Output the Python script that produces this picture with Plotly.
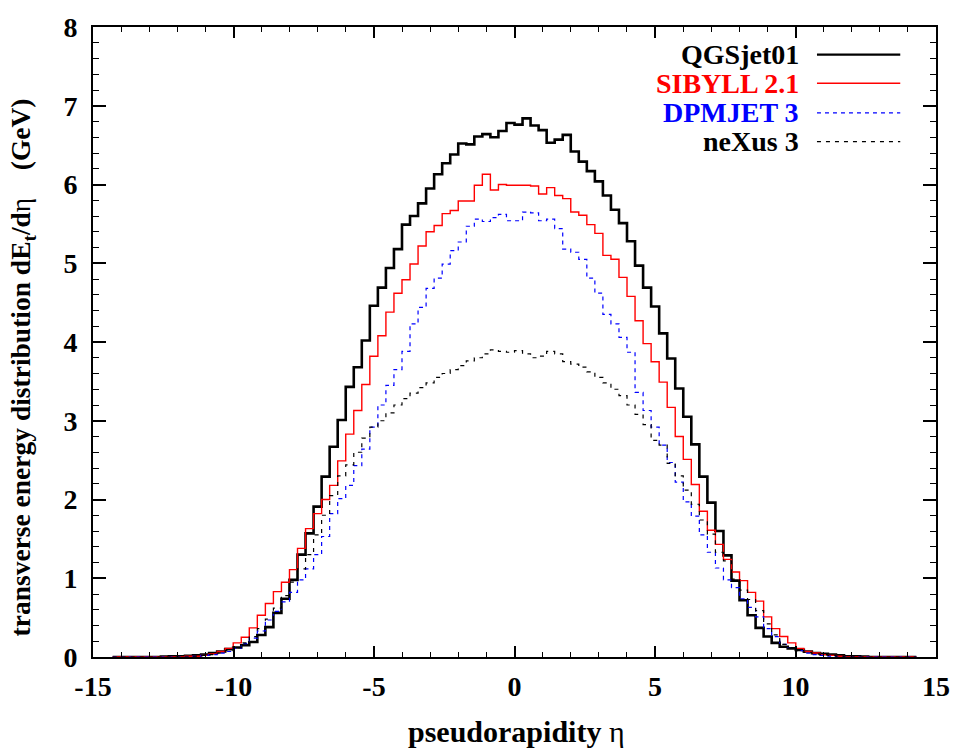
import numpy as np
import plotly.graph_objects as go

# ---- data: transverse energy per pseudorapidity bin (100 bins) ----
ETA_MIN, ETA_MAX, NBINS = -14.3, 14.3, 100

qgsjet = [0, 0, 0, 0, 0, 0, 0.005, 0.01, 0.01, 0.015,
          0.02, 0.03, 0.05, 0.07, 0.10, 0.12, 0.15, 0.19, 0.28, 0.38,
          0.56, 0.74, 0.98, 1.30, 1.57, 1.91, 2.29, 2.67, 3.01, 3.43,
          3.68, 4.02, 4.46, 4.69, 4.94, 5.18, 5.49, 5.60, 5.76, 5.95,
          6.13, 6.27, 6.38, 6.52, 6.51, 6.61, 6.64, 6.60, 6.68, 6.78,
          6.76, 6.84, 6.75, 6.69, 6.53, 6.57, 6.63, 6.42, 6.29, 6.17,
          6.04, 5.86, 5.68, 5.51, 5.28, 4.97, 4.69, 4.45, 4.11, 3.79,
          3.41, 3.05, 2.70, 2.29, 1.96, 1.60, 1.29, 0.97, 0.72, 0.53,
          0.37, 0.26, 0.18, 0.13, 0.11, 0.09, 0.07, 0.05, 0.04, 0.03,
          0.02, 0.01, 0.01, 0.005, 0, 0, 0, 0, 0, 0]

sibyll = [0, 0, 0, 0, 0, 0, 0, 0, 0, 0.01,
          0.01, 0.02, 0.04, 0.07, 0.11, 0.18, 0.25, 0.37, 0.53, 0.68,
          0.83, 0.95, 1.11, 1.38, 1.63, 1.82, 2.00, 2.18, 2.49, 2.83,
          3.13, 3.46, 3.82, 4.08, 4.38, 4.62, 4.79, 4.99, 5.22, 5.40,
          5.48, 5.63, 5.67, 5.79, 5.79, 5.99, 6.13, 5.93, 6.00, 5.99,
          5.99, 5.99, 5.98, 5.88, 5.96, 5.86, 5.82, 5.65, 5.61, 5.49,
          5.38, 5.10, 5.05, 4.82, 4.58, 4.27, 3.98, 3.75, 3.49, 3.17,
          2.80, 2.51, 2.19, 1.85, 1.61, 1.43, 1.24, 1.08, 0.97, 0.82,
          0.71, 0.51, 0.36, 0.26, 0.18, 0.11, 0.07, 0.05, 0.03, 0.02,
          0.01, 0, 0, 0, 0, 0, 0, 0, 0, 0]

dpmjet = [0, 0, 0, 0, 0, 0, 0, 0, 0, 0,
          0.01, 0.02, 0.03, 0.05, 0.07, 0.11, 0.17, 0.24, 0.33, 0.47,
          0.58, 0.70, 0.82, 0.98, 1.12, 1.30, 1.53, 1.82, 2.01, 2.18,
          2.43, 2.64, 2.92, 3.20, 3.45, 3.65, 3.88, 4.23, 4.44, 4.68,
          4.81, 4.99, 5.16, 5.27, 5.47, 5.56, 5.53, 5.58, 5.62, 5.54,
          5.54, 5.65, 5.64, 5.54, 5.56, 5.44, 5.18, 5.14, 5.05, 4.81,
          4.62, 4.35, 4.23, 4.06, 3.87, 3.36, 3.13, 2.92, 2.69, 2.47,
          2.22, 1.97, 1.79, 1.55, 1.33, 1.13, 0.98, 0.88, 0.74, 0.63,
          0.51, 0.36, 0.26, 0.16, 0.11, 0.08, 0.05, 0.03, 0.02, 0.01,
          0, 0, 0, 0, 0, 0, 0, 0, 0, 0]

nexus = [0, 0, 0, 0, 0, 0, 0, 0, 0, 0,
         0.01, 0.02, 0.03, 0.05, 0.08, 0.12, 0.18, 0.26, 0.36, 0.48,
         0.62, 0.78, 0.95, 1.12, 1.30, 1.55, 1.80, 2.05, 2.30, 2.44,
         2.60, 2.78, 2.92, 3.00, 3.10, 3.20, 3.28, 3.35, 3.42, 3.48,
         3.55, 3.60, 3.65, 3.70, 3.76, 3.80, 3.85, 3.90, 3.88, 3.87,
         3.89, 3.85, 3.80, 3.82, 3.88, 3.85, 3.75, 3.72, 3.68, 3.62,
         3.55, 3.48, 3.40, 3.32, 3.20, 3.08, 2.95, 2.75, 2.69, 2.46,
         2.30, 2.12, 1.94, 1.74, 1.56, 1.33, 1.22, 0.99, 0.85, 0.73,
         0.59, 0.42, 0.28, 0.16, 0.11, 0.08, 0.06, 0.04, 0.03, 0.02,
         0.01, 0, 0, 0, 0, 0, 0, 0, 0, 0]

series_names = ["QGSjet01", "SIBYLL 2.1", "DPMJET 3", "neXus 3"]
series_values = [qgsjet, sibyll, dpmjet, nexus]
series_colors = ["#000000", "#ff0000", "#0000ff", "#000000"]
series_widths = [2.6, 1.4, 1.2, 1.2]
series_dash = ["solid", "solid", "4px,4px", "4px,5px"]

x_ticks = [-15, -10, -5, 0, 5, 10, 15]
x_ticklabels = ["-15", "-10", "-5", "0", "5", "10", "15"]
y_ticks = [0, 1, 2, 3, 4, 5, 6, 7, 8]
y_ticklabels = ["0", "1", "2", "3", "4", "5", "6", "7", "8"]

edges = np.linspace(ETA_MIN, ETA_MAX, NBINS + 1)

FONT = "Liberation Serif"

fig = go.Figure()
for name, vals, col, w, d in zip(series_names, series_values, series_colors,
                                  series_widths, series_dash):
    yv = list(vals) + [vals[-1]]
    fig.add_trace(go.Scatter(x=edges, y=yv, mode="lines", name=name,
                             line=dict(color=col, width=w, dash=d, shape="hv"),
                             showlegend=False))

# legend (gnuplot style: text right-aligned, sample to the right)
leg_y = [0.9561, 0.9107, 0.8636, 0.8182]
for name, col, w, d, yy in zip(series_names, series_colors, series_widths,
                               series_dash, leg_y):
    fig.add_annotation(xref="paper", yref="paper", x=0.838, y=yy,
                       xanchor="right", yanchor="middle", showarrow=False,
                       text=name, borderpad=0, borderwidth=0,
                       font=dict(family=FONT, size=28, color=col, weight="bold"))
    fig.add_shape(type="line", xref="paper", yref="paper",
                  x0=0.8588, x1=0.9576, y0=yy, y1=yy,
                  line=dict(color=col, width=w if w < 2 else 2.2, dash=d))

# axis titles
fig.add_annotation(xref="paper", yref="paper", x=0.502, y=-0.119,
                   xanchor="center", yanchor="middle", showarrow=False,
                   text="pseudorapidity <span style='font-weight:normal'>η</span>",
                   font=dict(family=FONT, size=30, color="black", weight="bold"))
fig.add_annotation(xref="paper", yref="paper", x=-0.0835, y=0.459,
                   xanchor="center", yanchor="middle", showarrow=False,
                   textangle=-90,
                   text="transverse energy distribution dE<sub>t</sub>/d<span style='font-weight:normal'>η</span>\u00a0\u00a0\u00a0\u00a0(GeV)",
                   font=dict(family=FONT, size=27.5, color="black", weight="bold"))

axis_common = dict(showline=True, linecolor="black", linewidth=2,
                   mirror="allticks", ticks="inside", showgrid=False,
                   zeroline=False, tickcolor="black",
                   tickfont=dict(family=FONT, size=28, color="black", weight="bold"))

fig.update_xaxes(range=[-15, 15], tickvals=x_ticks, ticktext=x_ticklabels,
                 ticklen=11, tickwidth=1.6, ticklabelstandoff=3,
                 minor=dict(dtick=1, ticklen=5, ticks="inside", tickcolor="black",
                            tickwidth=1.2, showgrid=False),
                 **axis_common)
fig.update_yaxes(range=[0, 8], tickvals=y_ticks, ticktext=y_ticklabels,
                 ticklen=13, tickwidth=1.6, ticklabelstandoff=8,
                 minor=dict(dtick=0.2, ticklen=6, ticks="inside", tickcolor="black",
                            tickwidth=1.2, showgrid=False),
                 **axis_common)

fig.update_layout(width=962, height=751,
                  margin=dict(l=93, r=19, t=19, b=94),
                  paper_bgcolor="white", plot_bgcolor="white")

fig.write_html("out.html")
